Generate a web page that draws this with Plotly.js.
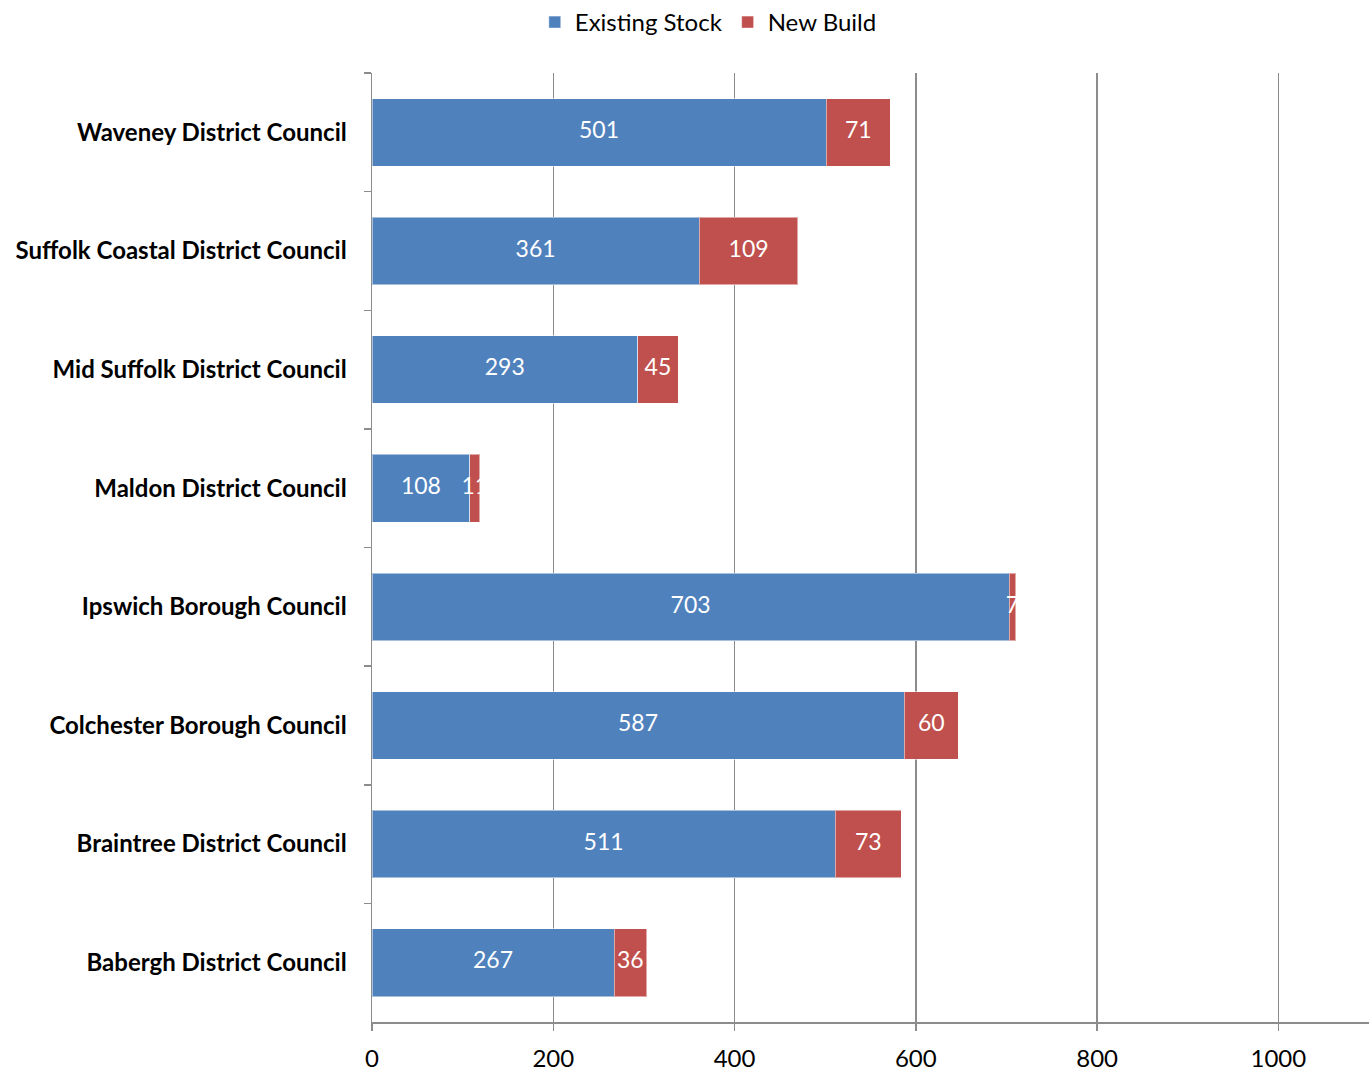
<!DOCTYPE html>
<html>
<head>
<meta charset="utf-8">
<script src="https://cdn.plot.ly/plotly-3.0.1.min.js"></script>
<style>html,body{margin:0;padding:0;background:#fff;}#chart{width:1370px;height:1072px;}</style>
</head>
<body>
<div id="chart"></div>
<script>
const councils = [
  "Waveney District Council",
  "Suffolk Coastal District Council",
  "Mid Suffolk District Council",
  "Maldon District Council",
  "Ipswich Borough Council",
  "Colchester Borough Council",
  "Braintree District Council",
  "Babergh District Council"
];
const existingStock = [501, 361, 293, 108, 703, 587, 511, 267];
const newBuild = [71, 109, 45, 11, 7, 60, 73, 36];
const xTicks = [0, 200, 400, 600, 800, 1000];

const FONT = "Lato, 'Open Sans', sans-serif";
const BLUE = "#4F81BD", RED = "#C0504D";

const traces = [
  {type: "bar", orientation: "h", name: "Existing Stock", y: councils, x: existingStock,
   marker: {color: BLUE, line: {color: "rgba(255,255,255,0.5)", width: 1}}, hoverinfo: "x+y"},
  {type: "bar", orientation: "h", name: "New Build", y: councils, x: newBuild,
   marker: {color: RED, line: {color: "rgba(255,255,255,0.5)", width: 1}}, hoverinfo: "x+y"},
  {type: "scatter", mode: "text", showlegend: false, hoverinfo: "skip", cliponaxis: false,
   y: councils, x: existingStock.map(v => v / 2), text: existingStock.map(String),
   textposition: "middle center", textfont: {color: "#fff", size: 23, family: FONT}},
  {type: "scatter", mode: "text", showlegend: false, hoverinfo: "skip", cliponaxis: false,
   y: councils, x: newBuild.map((v, i) => existingStock[i] + v / 2), text: newBuild.map(String),
   textposition: "middle center", textfont: {color: "#fff", size: 23, family: FONT}}
];

const layout = {
  width: 1370, height: 1072,
  margin: {l: 372, r: 1, t: 73, b: 50},
  barmode: "stack", bargap: 0.43,
  paper_bgcolor: "#fff", plot_bgcolor: "#fff",
  font: {family: FONT, size: 24, color: "#000"},
  showlegend: true,
  legend: {orientation: "h", x: 0.517, xanchor: "center", xref: "container", y: 1.0, yref: "container", yanchor: "top",
           font: {size: 24, family: FONT}, traceorder: "normal", itemwidth: 30},
  xaxis: {range: [0, 1100], tickvals: xTicks, ticktext: xTicks.map(String),
          showgrid: true, gridcolor: "#8c8c8c", gridwidth: 1.5,
          showline: true, linecolor: "#8c8c8c", linewidth: 1.5,
          ticks: "outside", ticklen: 7, tickcolor: "#8c8c8c", tickwidth: 1.5,
          zeroline: false, fixedrange: true, ticklabelstandoff: 8, tickfont: {size: 24, family: FONT}},
  yaxis: {type: "category", categoryorder: "array", categoryarray: councils, autorange: "reversed",
          showline: true, linecolor: "#8c8c8c", linewidth: 1.5,
          ticks: "outside", ticklen: 7, tickcolor: "#8c8c8c", tickwidth: 1.5, tickson: "boundaries",
          showgrid: false, zeroline: false, ticklabelstandoff: 19,
          tickfont: {size: 24, family: FONT, weight: "bold"}}
};

Plotly.newPlot("chart", traces, layout, {displayModeBar: false, staticPlot: true});
</script>
</body>
</html>
